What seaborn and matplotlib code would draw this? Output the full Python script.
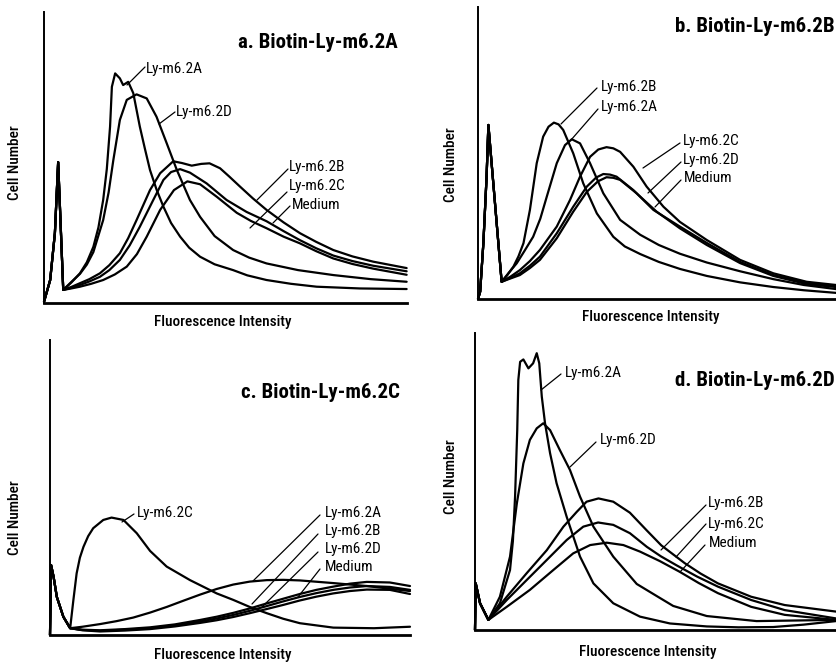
import matplotlib
matplotlib.use("Agg")
import matplotlib.pyplot as plt
from matplotlib.lines import Line2D
from matplotlib import font_manager
import pandas as pd
import seaborn as sns

# ---------------- data (relative units: x 0-100 along the axis, y 0-100 up the axis) ----------------
series_names = ["Ly-m6.2A", "Ly-m6.2B", "Ly-m6.2C", "Ly-m6.2D", "Medium"]
panel_titles = ["a. Biotin-Ly-m6.2A", "b. Biotin-Ly-m6.2B", "c. Biotin-Ly-m6.2C", "d. Biotin-Ly-m6.2D"]
x_label = "Fluorescence Intensity"
y_label = "Cell Number"

# panel a
a_spike_x = [0, 1.7, 3.0, 3.9, 5.3]
a_spike_y = [0.4, 7.9, 24.0, 48.4, 4.5]
a_A_x = [7.5, 9.9, 11.8, 13.6, 15.0, 16.3, 17.3, 18.2, 18.7, 19.6, 20.9, 21.8, 23.2, 24.6, 26.4, 27.8, 29.2, 31.0, 32.9, 35.0, 37.5, 40.0, 43.0, 47.0, 52.1, 56.0, 61.3, 68.0, 75.1, 87.0, 99.9]
a_A_y = [7.0, 10.2, 14.0, 19.3, 26.0, 35.4, 46.0, 60.6, 74.3, 78.9, 77.2, 74.9, 76.0, 72.1, 60.6, 53.0, 45.7, 39.0, 33.1, 27.5, 22.8, 19.0, 15.9, 13.3, 11.3, 9.5, 7.9, 6.6, 5.6, 5.0, 4.8]
a_B_x = [7.5, 9.9, 12.5, 15.4, 18.0, 20.9, 23.2, 25.5, 29.2, 32.0, 35.6, 38.0, 40.7, 43.3, 45.6, 48.5, 51.0, 54.0, 57.5, 61.3, 66.0, 70.5, 75.0, 79.7, 85.0, 90.7, 99.9]
a_B_y = [5.5, 6.8, 8.2, 10.2, 13.0, 17.1, 22.3, 28.5, 38.8, 44.6, 48.7, 48.1, 47.2, 47.8, 48.0, 46.3, 43.5, 40.0, 36.0, 32.0, 27.7, 24.0, 21.0, 18.2, 16.0, 14.2, 12.0]
a_C_x = [7.5, 9.9, 12.5, 15.4, 18.0, 20.9, 23.6, 26.4, 30.1, 32.9, 35.0, 37.5, 40.2, 44.8, 50.3, 55.8, 61.3, 66.0, 70.5, 75.0, 79.7, 85.0, 90.7, 99.9]
a_C_y = [5.2, 6.2, 7.4, 9.0, 11.3, 14.8, 19.8, 26.2, 35.4, 42.3, 45.0, 46.0, 44.8, 41.1, 35.4, 31.3, 28.1, 24.7, 21.6, 18.8, 16.3, 14.4, 12.8, 10.9]
a_D_x = [7.5, 9.9, 11.8, 13.6, 16.3, 17.8, 19.1, 20.9, 22.8, 25.5, 28.3, 31.0, 33.8, 36.6, 40.2, 43.0, 47.0, 52.1, 56.5, 61.3, 70.0, 79.7, 90.0, 99.9]
a_D_y = [7.2, 10.0, 13.2, 17.5, 28.5, 38.0, 49.1, 62.9, 69.8, 71.7, 70.3, 64.0, 54.9, 45.7, 35.4, 29.6, 23.0, 18.2, 15.6, 13.6, 11.3, 9.6, 8.2, 7.3]
a_M_x = [7.5, 9.9, 13.0, 16.3, 19.5, 22.8, 25.6, 28.3, 32.0, 35.8, 39.5, 43.0, 47.6, 53.1, 57.0, 61.3, 66.0, 70.5, 75.0, 79.7, 85.0, 90.7, 99.9]
a_M_y = [5.0, 5.6, 6.6, 7.9, 9.8, 12.5, 16.8, 22.8, 32.0, 38.8, 41.8, 40.8, 36.5, 31.0, 28.2, 25.7, 22.8, 20.5, 17.8, 15.3, 13.4, 11.8, 9.7]

# panel b
b_spike_x = [0, 0.6, 1.5, 2.4, 2.9, 6.6]
b_spike_y = [0, 2.5, 19.1, 41.9, 59.6, 5.9]
b_A_x = [8.6, 10.8, 13.0, 15.4, 17.4, 19.2, 22.0, 24.3, 26.2, 28.5, 31.3, 35.0, 39.7, 45.3, 50.5, 56.4, 63.9, 73.2, 82.5, 91.0, 100]
b_A_y = [9.0, 12.2, 16.5, 21.3, 27.5, 35.0, 46.5, 52.7, 54.7, 53.3, 46.5, 36.2, 27.1, 22.0, 18.5, 15.5, 12.5, 9.5, 6.8, 4.8, 3.4]
b_B_x = [8.2, 9.9, 11.3, 12.7, 14.5, 16.4, 18.2, 19.7, 21.2, 22.5, 23.8, 26.6, 29.4, 33.2, 37.8, 41.0, 45.3, 50.5, 56.4, 63.9, 73.2, 82.5, 91.0, 100]
b_B_y = [8.2, 11.1, 14.6, 19.1, 30.5, 46.5, 55.6, 59.0, 60.4, 59.8, 57.9, 49.9, 39.6, 29.3, 21.3, 18.0, 15.4, 12.7, 10.3, 7.9, 5.7, 4.1, 3.0, 2.1]
b_C_x = [9.0, 11.7, 14.5, 17.3, 22.0, 25.7, 28.5, 31.3, 33.6, 35.9, 37.8, 39.7, 43.4, 47.1, 51.8, 56.4, 63.9, 73.2, 82.5, 91.8, 100]
b_C_y = [7.6, 9.9, 13.0, 16.8, 24.8, 33.9, 41.9, 48.7, 51.2, 52.0, 51.6, 50.4, 45.3, 38.5, 31.6, 26.4, 20.2, 13.4, 8.8, 5.9, 4.8]
b_D_x = [9.0, 11.7, 14.5, 17.3, 22.0, 26.6, 30.4, 33.0, 35.0, 36.9, 38.7, 43.4, 49.0, 56.4, 63.9, 73.2, 82.5, 91.8, 100]
b_D_y = [7.2, 8.8, 11.4, 14.5, 22.5, 31.6, 38.5, 41.6, 42.8, 42.6, 41.9, 37.3, 30.5, 24.8, 19.2, 12.7, 8.2, 5.5, 4.5]
b_M_x = [9.0, 11.7, 14.5, 17.3, 22.0, 26.6, 30.4, 33.5, 35.9, 37.8, 39.7, 44.3, 49.9, 56.4, 63.9, 73.2, 82.5, 91.8, 100]
b_M_y = [7.0, 8.2, 10.6, 13.4, 20.8, 29.9, 36.7, 40.3, 41.7, 41.5, 40.8, 36.2, 29.9, 24.2, 18.5, 12.3, 7.9, 5.1, 4.1]

# panel c
c_spike_x = [0, 0.3, 1.0, 1.9, 3.7, 5.6]
c_spike_y = [0, 23.7, 19.7, 12.9, 6.2, 2.3]
c_A_x = [9.0, 13.9, 18.5, 23.1, 27.8, 32.4, 37.0, 41.7, 46.3, 50.9, 55.5, 60.2, 64.8, 69.4, 78.7, 88.0, 100]
c_A_y = [2.8, 3.7, 4.7, 5.9, 7.6, 9.5, 11.6, 13.7, 15.6, 17.1, 18.1, 18.6, 18.7, 18.5, 17.6, 16.6, 14.9]
c_B_x = [9.0, 13.9, 20.8, 27.8, 34.7, 41.7, 46.3, 50.9, 55.5, 60.2, 64.8, 69.4, 74.0, 78.7, 83.3, 88.0, 94.4, 100]
c_B_y = [1.8, 1.6, 2.0, 2.6, 3.6, 5.1, 6.2, 7.5, 9.0, 10.7, 12.3, 13.9, 15.3, 16.4, 17.4, 18.0, 17.8, 16.6]
c_C_x = [6.5, 7.4, 8.3, 9.3, 10.6, 12.0, 14.8, 17.1, 20.4, 24.1, 27.8, 32.4, 38.9, 46.3, 50.9, 55.5, 60.2, 64.8, 69.4, 78.7, 90.0, 100]
c_C_y = [11.9, 20.9, 26.2, 29.9, 33.5, 36.2, 39.0, 39.8, 39.0, 34.5, 28.5, 23.2, 18.6, 14.1, 11.9, 9.5, 7.4, 5.5, 4.0, 2.5, 2.3, 2.8]
c_D_x = [9.0, 13.9, 20.8, 27.8, 34.7, 41.7, 46.3, 50.9, 55.5, 60.2, 64.8, 69.4, 74.0, 78.7, 83.3, 88.0, 94.4, 100]
c_D_y = [1.7, 1.4, 1.8, 2.3, 3.2, 4.6, 5.6, 6.8, 8.2, 9.8, 11.4, 12.9, 14.2, 15.3, 16.1, 16.6, 16.3, 15.3]
c_M_x = [9.0, 13.9, 20.8, 27.8, 34.7, 41.7, 46.3, 50.9, 55.5, 60.2, 64.8, 69.4, 74.0, 78.7, 83.3, 88.0, 94.4, 100]
c_M_y = [1.6, 1.2, 1.5, 2.0, 2.9, 4.1, 5.0, 6.1, 7.4, 8.8, 10.2, 11.7, 13.0, 14.1, 14.9, 15.4, 15.3, 13.9]

# panel d
d_spike_x = [0, 0.2, 1.4, 3.7]
d_spike_y = [0, 15.7, 9.0, 3.4]
d_A_x = [6.9, 9.7, 10.5, 11.1, 11.7, 12.0, 12.5, 13.4, 14.8, 16.1, 17.1, 17.8, 18.5, 19.4, 20.8, 22.6, 25.4, 29.1, 32.8, 38.3, 45.7, 54.0, 64.2, 73.0, 82.6, 91.0, 100]
d_A_y = [9.0, 20.2, 30.0, 44.9, 67.3, 84.2, 90.3, 91.1, 88.1, 89.8, 93.2, 89.8, 78.6, 69.6, 59.5, 49.4, 38.1, 24.7, 15.7, 9.0, 4.5, 2.2, 1.2, 0.9, 1.0, 1.8, 3.0]
d_B_x = [8.8, 14.3, 19.9, 24.5, 28.2, 30.9, 34.2, 38.3, 42.9, 47.6, 51.6, 58.1, 62.5, 67.3, 76.5, 85.8, 100]
d_B_y = [11.2, 19.1, 26.9, 34.8, 39.8, 43.2, 44.3, 43.2, 39.5, 33.5, 28.5, 22.5, 19.0, 15.7, 11.2, 8.4, 6.2]
d_C_x = [8.8, 14.3, 19.9, 25.4, 30.0, 34.1, 38.3, 42.9, 47.6, 51.5, 55.8, 61.5, 67.3, 76.5, 85.8, 100]
d_C_y = [10.1, 16.8, 23.6, 30.3, 34.8, 36.2, 35.4, 32.6, 28.0, 24.8, 21.8, 18.0, 14.6, 10.1, 6.7, 3.9]
d_D_x = [6.9, 9.7, 11.6, 13.4, 15.2, 17.1, 18.9, 20.8, 23.5, 26.3, 29.1, 32.8, 38.3, 44.8, 51.2, 54.9, 64.2, 78.0, 100]
d_D_y = [11.2, 24.7, 42.7, 56.1, 64.0, 67.9, 69.6, 67.3, 60.6, 53.9, 44.9, 34.8, 24.7, 15.5, 10.8, 8.1, 4.7, 3.0, 3.4]
d_M_x = [8.8, 15.2, 21.7, 27.2, 31.9, 36.5, 41.1, 45.7, 51.2, 56.7, 62.0, 67.3, 76.5, 85.8, 100]
d_M_y = [7.8, 13.5, 20.2, 25.8, 28.6, 29.4, 28.6, 26.4, 23.2, 19.6, 15.8, 12.4, 7.8, 5.1, 3.4]

panel_data = [
    (a_spike_x, a_spike_y, [(a_A_x, a_A_y), (a_B_x, a_B_y), (a_C_x, a_C_y), (a_D_x, a_D_y), (a_M_x, a_M_y)]),
    (b_spike_x, b_spike_y, [(b_A_x, b_A_y), (b_B_x, b_B_y), (b_C_x, b_C_y), (b_D_x, b_D_y), (b_M_x, b_M_y)]),
    (c_spike_x, c_spike_y, [(c_A_x, c_A_y), (c_B_x, c_B_y), (c_C_x, c_C_y), (c_D_x, c_D_y), (c_M_x, c_M_y)]),
    (d_spike_x, d_spike_y, [(d_A_x, d_A_y), (d_B_x, d_B_y), (d_C_x, d_C_y), (d_D_x, d_D_y), (d_M_x, d_M_y)]),
]

# ---------------- layout (figure pixels, origin top-left) ----------------
W, H = 836, 663
axes_px = [(44, 12, 407, 303), (478, 7, 836, 299), (50, 340, 410, 635), (475, 333, 836, 630)]
title_px = [(398, 43, "right"), (835, 27, "right"), (400, 392, "right"), (835, 380, "right")]
ylabel_px = [(15, 163), (451, 165), (15, 518), (451, 477)]
xlabel_px = [(223, 322), (651, 317), (223, 655), (648, 652)]
# (label, text_x, text_y, leader start x, y, leader end x, y)
labels_px = [
    [("Ly-m6.2A", 146, 69, 145, 67, 127, 85), ("Ly-m6.2D", 176, 112, 175, 112, 159, 124),
     ("Ly-m6.2B", 289, 167, 288, 169, 257, 200), ("Ly-m6.2C", 289, 186, 287, 192, 250, 228),
     ("Medium", 292, 205, 290, 206, 273, 223)],
    [("Ly-m6.2B", 601, 87, 597, 88, 561, 124), ("Ly-m6.2A", 601, 107, 598, 109, 571, 140),
     ("Ly-m6.2C", 683, 141, 680, 143, 643, 168), ("Ly-m6.2D", 683, 160, 681, 162, 648, 193),
     ("Medium", 684, 178, 681, 180, 655, 207)],
    [("Ly-m6.2C", 137, 513, 134, 514, 122, 522), ("Ly-m6.2A", 325, 513, 320, 515, 253, 581),
     ("Ly-m6.2B", 325, 531, 318, 534, 252, 604), ("Ly-m6.2D", 325, 549, 318, 552, 262, 607),
     ("Medium", 325, 567, 320, 569, 298, 597)],
    [("Ly-m6.2A", 565, 373, 561, 374, 541, 390), ("Ly-m6.2D", 600, 440, 596, 442, 570, 467),
     ("Ly-m6.2B", 708, 503, 706, 505, 661, 550), ("Ly-m6.2C", 708, 524, 706, 524, 676, 557),
     ("Medium", 709, 543, 705, 545, 680, 572)],
]

sns.set_theme(style="white")
names = {f.name for f in font_manager.fontManager.ttflist}


def pick(prefs):
    for p in prefs:
        if p in names:
            return p
    return "DejaVu Sans"


regular_font = pick(["Roboto Condensed", "Archivo Narrow", "Barlow Semi Condensed", "Liberation Sans Narrow"])
bold_font = pick(["Roboto Condensed", "Barlow Semi Condensed", "Asap Condensed", "Liberation Sans Narrow"])
plt.rcParams["font.family"] = [regular_font, "DejaVu Sans"]

fig = plt.figure(figsize=(W / 100, H / 100), dpi=100, facecolor="white")


def fx(px):
    return px / W


def fy(py):
    return 1 - py / H


for i, (sx, sy, curves) in enumerate(panel_data):
    x0, y0, x1, y1 = axes_px[i]
    ax = fig.add_axes([fx(x0), fy(y1), (x1 - x0) / W, (y1 - y0) / H])
    rows = []
    for name, (cx, cy) in zip(series_names, curves):
        xs = list(sx) + list(cx)
        ys = list(sy) + list(cy)
        for k, (xv, yv) in enumerate(zip(xs, ys)):
            rows.append({"series": name, "order": k, "x": xv, "y": yv})
    df = pd.DataFrame(rows)
    sns.lineplot(data=df, x="x", y="y", hue="series", palette=["black"] * 5,
                 estimator=None, sort=False, legend=False, linewidth=1.6, ax=ax)
    for ln in ax.lines:
        ln.set_clip_on(False)
        ln.set_solid_joinstyle("round")
    ax.set_xlim(0, 100)
    ax.set_ylim(0, 100)
    ax.set_xticks([])
    ax.set_yticks([])
    ax.set_xlabel("")
    ax.set_ylabel("")
    ax.patch.set_alpha(0)
    for s in ["top", "right"]:
        ax.spines[s].set_visible(False)
    ax.spines["left"].set_linewidth(1.4)
    ax.spines["bottom"].set_linewidth(2.0)
    ax.spines["left"].set_color("black")
    ax.spines["bottom"].set_color("black")

    tx, ty, ha = title_px[i]
    fig.text(fx(tx), fy(ty), panel_titles[i], ha=ha, va="center", fontsize=15,
             fontweight="bold", color="black", family=[bold_font, "DejaVu Sans"])
    lx, ly = ylabel_px[i]
    fig.text(fx(lx), fy(ly), y_label, rotation=90, ha="center", va="center",
             fontsize=11, color="black", fontweight="medium")
    bx, by = xlabel_px[i]
    fig.text(fx(bx), fy(by), x_label, ha="center", va="center", fontsize=11,
             color="black", fontweight="medium")
    for (lab, tx, ty, ax1, ay1, ax2, ay2) in labels_px[i]:
        fig.text(fx(tx), fy(ty), lab, ha="left", va="center", fontsize=11, color="black")
        fig.add_artist(Line2D([fx(ax1), fx(ax2)], [fy(ay1), fy(ay2)],
                              transform=fig.transFigure, color="black", lw=0.9))

fig.savefig("out.png", dpi=100, facecolor="white")
